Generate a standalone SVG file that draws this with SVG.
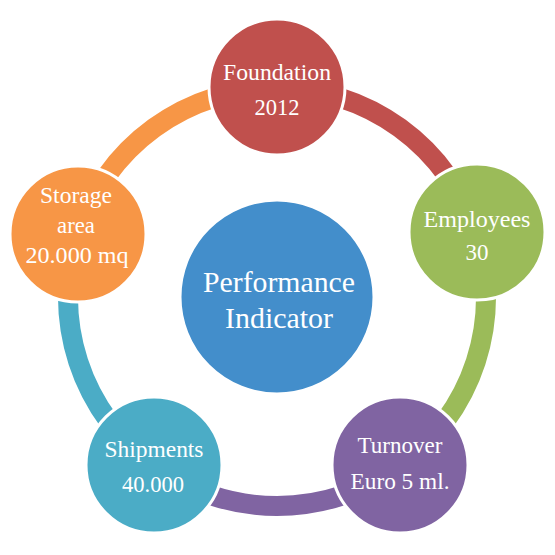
<svg xmlns="http://www.w3.org/2000/svg" width="555" height="555" viewBox="0 0 555 555">
<style>
.arc{fill:none;stroke-width:20;stroke-linecap:butt}
.node{stroke:#ffffff;stroke-width:3}
text{font-family:"Liberation Serif","DejaVu Serif","Noto Serif","FreeSerif","Times New Roman",Times,serif;fill:#ffffff;text-anchor:middle;font-size:23px}
.tc{font-size:29px}
</style>
<rect width="555" height="555" fill="#ffffff"/>
<g id="connectors">
<path class="arc" stroke="#C0504D" d="M 277 88 A 209 209 0 0 1 475.8 232.4"/>
<path class="arc" stroke="#9BBB59" d="M 475.8 232.4 A 209 209 0 0 1 399.8 466.1"/>
<path class="arc" stroke="#8064A2" d="M 399.8 466.1 A 209 209 0 0 1 154.2 466.1"/>
<path class="arc" stroke="#4BACC6" d="M 154.2 466.1 A 209 209 0 0 1 78.2 232.4"/>
<path class="arc" stroke="#F79646" d="M 78.2 232.4 A 209 209 0 0 1 277 88"/>
</g>
<g id="center">
<circle class="node" cx="277" cy="297" r="97" fill="#438ECB"/>
<text class="tc" x="279" y="292" textLength="152" lengthAdjust="spacingAndGlyphs">Performance</text>
<text class="tc" x="279" y="328" textLength="108" lengthAdjust="spacingAndGlyphs">Indicator</text>
</g>
<g id="foundation">
<circle class="node" cx="277" cy="87" r="68" fill="#C0504D"/>
<text x="277" y="80" textLength="108" lengthAdjust="spacingAndGlyphs">Foundation</text>
<text x="277" y="115" textLength="45" lengthAdjust="spacingAndGlyphs">2012</text>
</g>
<g id="employees">
<circle class="node" cx="477" cy="232" r="68" fill="#9BBB59"/>
<text x="477" y="227" textLength="107" lengthAdjust="spacingAndGlyphs">Employees</text>
<text x="477" y="260" textLength="23" lengthAdjust="spacingAndGlyphs">30</text>
</g>
<g id="turnover">
<circle class="node" cx="400" cy="465" r="68" fill="#8064A2"/>
<text x="400" y="453" textLength="85" lengthAdjust="spacingAndGlyphs">Turnover</text>
<text x="400" y="489" textLength="99" lengthAdjust="spacingAndGlyphs">Euro 5 ml.</text>
</g>
<g id="shipments">
<circle class="node" cx="154" cy="465" r="68" fill="#4BACC6"/>
<text x="154" y="457" textLength="99" lengthAdjust="spacingAndGlyphs">Shipments</text>
<text x="153" y="492" textLength="62" lengthAdjust="spacingAndGlyphs">40.000</text>
</g>
<g id="storage">
<circle class="node" cx="78" cy="234" r="68" fill="#F79646"/>
<text x="76" y="203" textLength="72" lengthAdjust="spacingAndGlyphs">Storage</text>
<text x="76" y="233" textLength="38" lengthAdjust="spacingAndGlyphs">area</text>
<text x="77" y="263" textLength="103" lengthAdjust="spacingAndGlyphs">20.000 mq</text>
</g>
</svg>
